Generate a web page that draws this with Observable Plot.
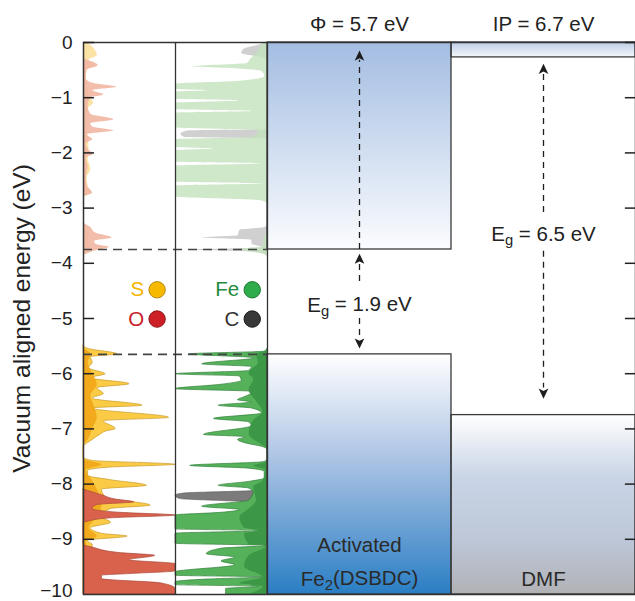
<!DOCTYPE html>
<html><head><meta charset="utf-8">
<script src="https://cdn.jsdelivr.net/npm/d3@7"></script>
<script src="https://cdn.jsdelivr.net/npm/@observablehq/plot@0.6"></script>
<style>body{margin:0;background:#fff}#chart svg{display:block}</style>
</head><body><div id="chart"></div>
<script>
// ---------- data ----------
const yTicks = [0, -1, -2, -3, -4, -5, -6, -7, -8, -9];
const yTickBottom = [-10];
const bandNames = ["Activated", "DMF"];
const bandLabels = ["Activated\nFe_2(DSBDC)", "DMF"];
const cbm = [-3.75, -0.27];
const vbm = [-5.65, -6.75];
const topLabels = ["Φ = 5.7 eV", "IP = 6.7 eV"];
const gapLabels = ["E_g = 1.9 eV", "E_g = 6.5 eV"];
const legendLabels = ["S", "O", "Fe", "C"];

// PDOS [energy (eV), dos (fraction of panel width)]
const sCond = [[0,0.02],[-0.05,0.08],[-0.12,0.12],[-0.24,0.15],[-0.32,0.06],[-0.42,0.12],[-0.5,0.04],[-0.62,0.03],[-0.8,0.05],[-0.95,0.06],[-1.1,0.11],[-1.2,0.05],[-1.5,0.04],[-1.7,0.05],[-1.9,0.06],[-2.1,0.05],[-2.3,0.08],[-2.45,0.04],[-2.6,0.05],[-2.73,0.08],[-2.82,0],[-3.28,0],[-3.4,0.05],[-3.6,0.06],[-3.75,0.08],[-3.86,0]];
const oCond = [[-0.3,0],[-0.42,0.16],[-0.5,0.04],[-0.65,0.03],[-0.74,0.1],[-0.81,0.36],[-0.87,0.1],[-0.95,0.22],[-1.0,0.08],[-1.15,0.05],[-1.3,0.08],[-1.4,0.33],[-1.47,0.08],[-1.53,0.1],[-1.6,0.33],[-1.67,0.04],[-1.76,0.1],[-1.83,0.03],[-1.95,0.06],[-2.02,0.11],[-2.1,0.03],[-2.25,0.05],[-2.45,0.03],[-2.6,0.04],[-2.73,0.1],[-2.8,0],[-3.25,0],[-3.35,0.08],[-3.45,0.13],[-3.54,0.31],[-3.6,0.12],[-3.66,0.14],[-3.71,0.28],[-3.78,0.12],[-3.86,0]];
const sVal = [[-5.5,0],[-5.55,0.05],[-5.65,0.37],[-5.7,0.08],[-5.8,0.1],[-5.9,0.06],[-6.01,0.24],[-6.08,0.08],[-6.19,0.5],[-6.26,0.15],[-6.37,0.22],[-6.45,0.1],[-6.58,0.64],[-6.63,0.1],[-6.8,0.93],[-6.86,0.22],[-7.0,0.35],[-7.05,0.24],[-7.1,0.19],[-7.2,0.1],[-7.34,0],[-7.52,0],[-7.58,0.1],[-7.65,1.0],[-7.7,0.3],[-7.76,0.05],[-7.85,0.05],[-7.93,0.3],[-8.03,0.69],[-8.1,0.2],[-8.25,0.25],[-8.39,0.73],[-8.45,0.3],[-8.6,0.2],[-8.7,0.3],[-8.8,0.08],[-8.9,0.2],[-8.95,0.48],[-9.03,0.04],[-9.1,0.1],[-9.3,0.1],[-9.5,0.08],[-9.7,0.12],[-9.8,0.3],[-10,0.1]];
const sValCore = [[-5.55,0],[-5.65,0.08],[-5.8,0.05],[-6.0,0.1],[-6.2,0.15],[-6.4,0.08],[-6.6,0.12],[-6.8,0.15],[-7.0,0.1],[-7.2,0.05],[-7.3,0],[-7.55,0],[-7.65,0.2],[-7.75,0.03],[-7.95,0.1],[-8.1,0.15],[-8.4,0.2],[-8.6,0.15],[-8.8,0.06],[-8.95,0.15],[-9.05,0.03],[-9.3,0.08],[-9.6,0.08],[-10,0.08]];
const oVal = [[-8.1,0],[-8.15,0.1],[-8.2,0.2],[-8.28,0.35],[-8.33,0.55],[-8.38,0.15],[-8.45,0.1],[-8.52,0.4],[-8.57,1.0],[-8.62,0.3],[-8.68,0.05],[-8.72,0],[-9.1,0],[-9.15,0.1],[-9.25,0.4],[-9.3,0.78],[-9.38,0.5],[-9.45,1.0],[-9.58,1.0],[-9.63,0.5],[-9.66,0.2],[-9.72,0.2],[-9.8,0.85],[-9.9,1.0],[-10,1.0]];
const feCond = [[0,0.05],[-0.1,0.08],[-0.2,0.12],[-0.3,0.18],[-0.38,0.22],[-0.44,0.81],[-0.48,0.32],[-0.52,0.06],[-0.62,0.03],[-0.7,0.3],[-0.755,1],[-0.85,1],[-0.875,0.64],[-0.9,1],[-1.03,1],[-1.06,0.32],[-1.1,1],[-1.22,1],[-1.25,0.17],[-1.28,1],[-1.55,1],[-1.6,0.1],[-1.72,0.15],[-1.76,1],[-1.9,1],[-1.93,0.57],[-1.96,1],[-2.17,1],[-2.2,0.06],[-2.24,1],[-2.53,1],[-2.56,0.03],[-2.6,1],[-2.8,1],[-2.87,0.06],[-2.92,0],[-3.45,0],[-3.5,0.03],[-3.7,0.05],[-3.76,0.3],[-3.82,0.08],[-3.88,0]];
const cCond = [[0,0],[-0.05,0.1],[-0.12,0.25],[-0.2,0.28],[-0.28,0.05],[-0.35,0],[-1.58,0],[-1.6,0.85],[-1.66,0.94],[-1.72,0.9],[-1.75,0],[-3.3,0],[-3.35,0.03],[-3.4,0.3],[-3.5,0.32],[-3.54,0.71],[-3.58,0.17],[-3.65,0.17],[-3.72,0.05],[-3.76,0.82],[-3.8,0.14],[-3.86,0]];
const feVal = [[-5.55,0],[-5.6,0.03],[-5.65,0.85],[-5.72,0.14],[-5.83,0.71],[-5.88,0.17],[-5.95,0.2],[-6.01,1.0],[-6.05,0.3],[-6.13,0.28],[-6.2,0.5],[-6.28,1.0],[-6.33,0.14],[-6.42,0.24],[-6.48,0.32],[-6.52,0.17],[-6.58,0.53],[-6.63,0.17],[-6.72,0.06],[-6.82,0.58],[-6.88,0.2],[-6.95,0.17],[-7.11,0.69],[-7.15,0.24],[-7.2,0.32],[-7.25,0.26],[-7.34,0.03],[-7.38,0],[-7.55,0],[-7.6,0.03],[-7.67,0.84],[-7.72,0.2],[-7.78,0.03],[-7.9,0.03],[-7.96,0.2],[-8.03,0.53],[-8.08,0.2],[-8.15,0.15],[-8.3,0.2],[-8.41,0.71],[-8.47,0.3],[-8.52,0.5],[-8.57,1.0],[-8.82,1.0],[-8.85,0.06],[-8.9,1.0],[-9.08,1.0],[-9.12,0.01],[-9.17,0.5],[-9.27,0.66],[-9.33,0.35],[-9.4,0.5],[-9.47,0.35],[-9.6,1.0],[-9.66,1.0],[-9.69,0.06],[-9.73,0.67],[-9.78,1.0],[-9.83,1.0],[-9.86,0.09],[-9.9,0.45],[-10,0.45]];
const feValCore = [[-5.6,0],[-5.65,0.12],[-5.8,0.1],[-6.0,0.2],[-6.1,0.15],[-6.3,0.2],[-6.5,0.12],[-6.7,0.05],[-6.85,0.15],[-7.1,0.2],[-7.3,0.05],[-7.36,0],[-7.6,0],[-7.67,0.15],[-7.75,0.02],[-7.95,0.05],[-8.05,0.15],[-8.3,0.12],[-8.45,0.2],[-8.6,0.3],[-8.8,0.25],[-8.85,0.05],[-8.9,0.25],[-9.1,0.2],[-9.12,0.01],[-9.3,0.2],[-9.5,0.25],[-9.69,0.05],[-9.8,0.3],[-9.86,0.05],[-10,0.2]];
const cVal = [[-8.1,0],[-8.13,0.2],[-8.17,0.9],[-8.21,1.0],[-8.27,0.95],[-8.32,0.3],[-8.35,0]];

// ---------- styling ----------
const font = "'Liberation Sans', Arial, Helvetica, sans-serif";
const legendFill = ["#f7b800", "#cc1f26", "#2eab4b", "#383838"];
const legendStroke = ["#b88a10", "#8e1418", "#1f7a35", "#1a1a1a"];
const legendText = ["#f5b400", "#c8202a", "#1f8a3c", "#333333"];
const gradients = [
  {id: "gActCB", stops: [[0, "#a3bde2"], [1, "#fbfcfe"]]},
  {id: "gActVB", stops: [[0, "#ffffff"], [0.45, "#a9c2e3"], [1, "#2a7ec4"]]},
  {id: "gDmfCB", stops: [[0, "#bccde6"], [1, "#f4f7fb"]]},
  {id: "gDmfVB", stops: [[0, "#ffffff"], [0.35, "#c9d4e6"], [0.7, "#bdc7d8"], [1, "#b1b2b5"]]}
];
const bandFillCB = ["url(#gActCB)", "url(#gDmfCB)"];
const bandFillVB = ["url(#gActVB)", "url(#gDmfVB)"];
function gradientDefs() {
  const defs = d3.create("svg:defs");
  for (const g of gradients) {
    const lg = defs.append("linearGradient").attr("id", g.id)
      .attr("x1", 0).attr("y1", 0).attr("x2", 0).attr("y2", 1);
    for (const [o, c] of g.stops) lg.append("stop").attr("offset", o).attr("stop-color", c);
  }
  return defs.node();
}
const stealth = {
  draw(ctx, size) {
    const r = Math.sqrt(size / Math.PI);
    ctx.moveTo(0, -1.3 * r);
    ctx.lineTo(1.1 * r, 1.0 * r);
    ctx.lineTo(0, 0.45 * r);
    ctx.lineTo(-1.1 * r, 1.0 * r);
    ctx.closePath();
  }
};
const E = d => d[0], V = d => d[1];
const leftArea = (data, fill, extra = {}) =>
  Plot.areaX(data, {y: E, x1: 0, x2: V, fill, curve: "monotone-y", ...extra});
const midArea = (data, fill, extra = {}) =>
  Plot.areaX(data, {y: E, x1: 2, x2: d => 2 - d[1], fill, curve: "monotone-y", ...extra});
const bandX = i => 2 + 2 * i;
const dash = "6,5";
const ink = "#1e1e1e";
const labelSize = 20.5;

const svg = Plot.plot({
  width: 635, height: 601,
  marginLeft: 83, marginRight: 0, marginTop: 42, marginBottom: 7,
  x: {domain: [0, 6], axis: null},
  y: {domain: [-10, 0], axis: null},
  color: {type: "identity"},
  style: {fontFamily: font, background: "#fff", color: "#222"},
  marks: [
    gradientDefs,
    Plot.rect(bandNames, {x1: (d, i) => bandX(i), x2: (d, i) => bandX(i) + 2, y1: 0, y2: (d, i) => cbm[i],
      fill: (d, i) => bandFillCB[i]}),
    Plot.rect(bandNames, {x1: (d, i) => bandX(i), x2: (d, i) => bandX(i) + 2, y1: (d, i) => vbm[i], y2: -10,
      fill: (d, i) => bandFillVB[i]}),
    leftArea(sCond, "#fbe0a0", {fillOpacity: 0.95}),
    leftArea(oCond, "#f1b6a2", {fillOpacity: 0.9}),
    leftArea(sVal, "#fbcb45", {stroke: "#c99b2c", strokeWidth: 0.7}),
    leftArea(sValCore, "#f2aa1c"),
    leftArea(oVal, "#d8624c", {stroke: "#a8483a", strokeWidth: 0.7}),
    midArea(cCond, "#cdcdcd", {fillOpacity: 0.95}),
    midArea(feCond, "#c3e2bb", {fillOpacity: 0.8}),
    midArea(cVal, "#7c7a7a", {stroke: "#555", strokeWidth: 0.6}),
    midArea(feVal, "#56b25a", {stroke: "#2f7f3a", strokeWidth: 0.7}),
    midArea(feValCore, "#3c9846"),
    Plot.ruleY([cbm[0], vbm[0]], {x1: 0, x2: 2, stroke: "#444", strokeWidth: 1.6, strokeDasharray: "9,6"}),
    Plot.rect(bandNames, {x1: (d, i) => bandX(i), x2: (d, i) => bandX(i) + 2, y1: 0, y2: (d, i) => cbm[i],
      fill: "none", stroke: "#3a3a3a", strokeWidth: 1.3}),
    Plot.rect(bandNames, {x1: (d, i) => bandX(i), x2: (d, i) => bandX(i) + 2, y1: (d, i) => vbm[i], y2: -10,
      fill: "none", stroke: "#3a3a3a", strokeWidth: 1.3}),
    Plot.ruleX([1, 2], {stroke: "#333", strokeWidth: 1.3}),
    Plot.frame({stroke: "#333", strokeWidth: 1.5}),
    Plot.ruleY(yTicks, {x1: 0, x2: 0.12, stroke: "#222", strokeWidth: 1.5}),
    Plot.ruleY(yTicks, {x1: 5.89, x2: 6, stroke: "#222", strokeWidth: 1.5}),
    Plot.axisY(yTicks, {tickSize: 0, tickPadding: 11, fontSize: 19, label: null, tickFormat: d3.format("d")}),
    Plot.axisY(yTickBottom, {tickSize: 0, tickPadding: 11, fontSize: 19, label: null, dy: -3.5, tickFormat: d3.format("d")}),
    Plot.text(["Vacuum aligned energy (eV)"], {frameAnchor: "left", y: -5, dx: -61, rotate: -90,
      textAnchor: "middle", fontSize: 24.5, fill: "#222"}),
    // arrows: Activated
    Plot.ruleX([3], {y1: cbm[0], y2: -0.32, stroke: ink, strokeWidth: 1.3, strokeDasharray: dash}),
    Plot.ruleX([3], {y1: -4.02, y2: -4.38, stroke: ink, strokeWidth: 1.3, strokeDasharray: dash}),
    Plot.ruleX([3], {y1: -5.0, y2: -5.36, stroke: ink, strokeWidth: 1.3, strokeDasharray: dash}),
    Plot.dot([-0.25, -3.93], {x: 3, y: d => d, symbol: stealth, r: 4.4, fill: ink, stroke: null}),
    Plot.dot([-5.44], {x: 3, y: d => d, symbol: stealth, r: 4.4, rotate: 180, fill: ink, stroke: null}),
    // arrows: DMF
    Plot.ruleX([5], {y1: -0.58, y2: -3.15, stroke: ink, strokeWidth: 1.3, strokeDasharray: dash}),
    Plot.ruleX([5], {y1: -3.78, y2: -6.26, stroke: ink, strokeWidth: 1.3, strokeDasharray: dash}),
    Plot.dot([-0.49], {x: 5, y: d => d, symbol: stealth, r: 4.4, fill: ink, stroke: null}),
    Plot.dot([-6.35], {x: 5, y: d => d, symbol: stealth, r: 4.4, rotate: 180, fill: ink, stroke: null}),
    // labels
    Plot.text(topLabels, {x: (d, i) => bandX(i) + 1, y: 0, dy: -18, fontSize: labelSize, fill: "#222"}),
    Plot.text([gapLabels[0]], {x: 3, y: (cbm[0] + vbm[0]) / 2, dy: 3, fontSize: labelSize, fill: "#222"}),
    Plot.text([gapLabels[1]], {x: 5, y: -3.47, fontSize: labelSize, fill: "#222"}),
    Plot.text(bandLabels, {x: (d, i) => bandX(i) + 1, y: -10, dy: -9, lineAnchor: "bottom", lineHeight: 1.65,
      fontSize: labelSize, fill: "#2a2a2a"}),
    // legend
    Plot.dot(legendLabels, {x: (d, i) => i < 2 ? 0.8 : 1.834, y: (d, i) => i % 2 ? -5.01 : -4.48, r: 8.2,
      fill: (d, i) => legendFill[i], stroke: (d, i) => legendStroke[i], strokeWidth: 1}),
    Plot.text(legendLabels, {x: (d, i) => i < 2 ? 0.8 : 1.834, y: (d, i) => i % 2 ? -5.01 : -4.48, dx: -13,
      textAnchor: "end", fontSize: labelSize, fill: (d, i) => legendText[i]})
  ]
});

// subscripts: "X_s" -> X with subscript s
(function subscripts(root) {
  const walker = document.createTreeWalker(root, NodeFilter.SHOW_TEXT);
  const nodes = [];
  while (walker.nextNode()) if (/_\w/.test(walker.currentNode.nodeValue)) nodes.push(walker.currentNode);
  const ns = "http://www.w3.org/2000/svg";
  for (const n of nodes) {
    const m = n.nodeValue.match(/^(.*?)_(\w)(.*)$/);
    const parent = n.parentNode;
    const a = document.createTextNode(m[1]);
    const sub = document.createElementNS(ns, "tspan");
    sub.setAttribute("dy", "0.3em"); sub.setAttribute("font-size", "0.72em"); sub.textContent = m[2];
    const rest = document.createElementNS(ns, "tspan");
    rest.setAttribute("dy", "-0.22em"); rest.textContent = m[3];
    parent.insertBefore(a, n); parent.insertBefore(sub, n); parent.insertBefore(rest, n); parent.removeChild(n);
  }
})(svg);

document.getElementById("chart").appendChild(svg);
</script>
</body></html>
